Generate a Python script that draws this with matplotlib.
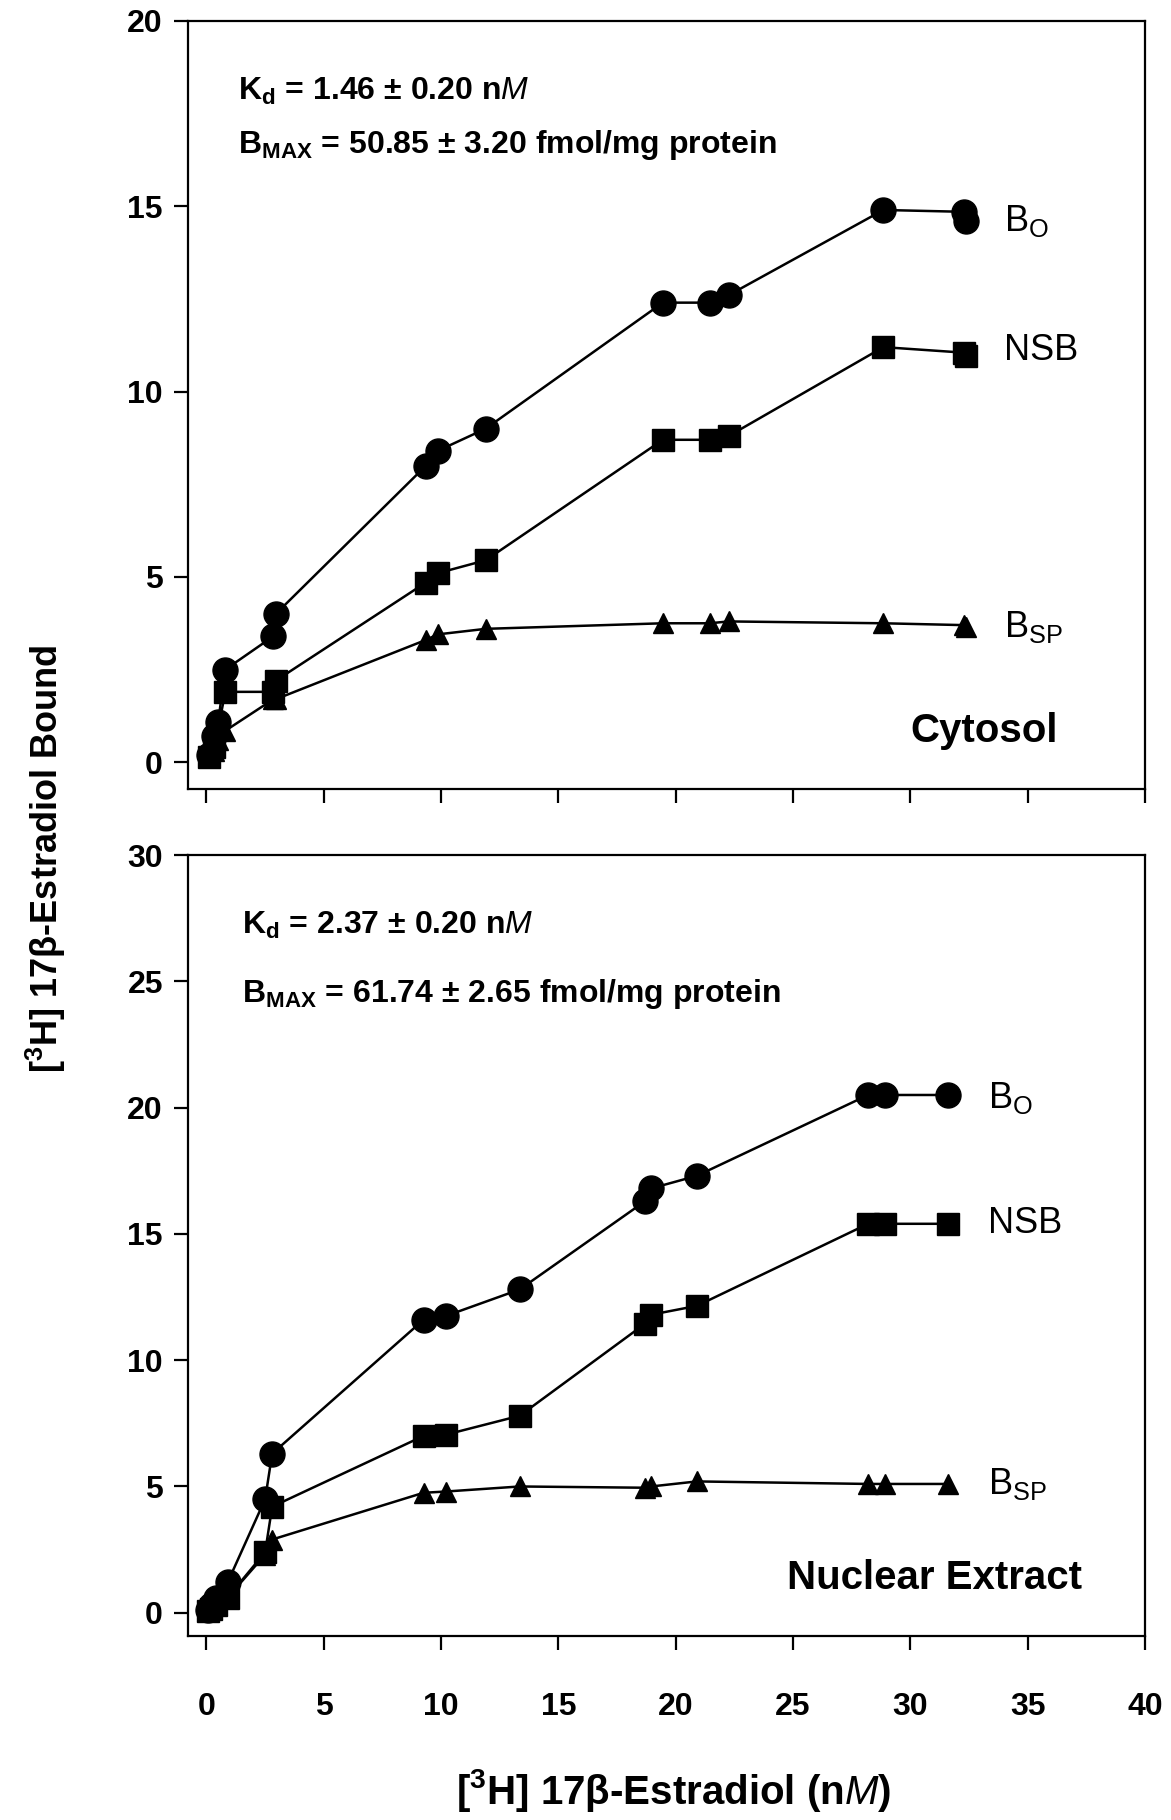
import matplotlib
matplotlib.use('Agg')
import matplotlib.pyplot as plt

plt.rcParams['font.family'] = ['Liberation Sans', 'DejaVu Sans']
plt.rcParams['mathtext.fontset'] = 'custom'
plt.rcParams['mathtext.rm'] = 'Liberation Sans'
plt.rcParams['mathtext.it'] = 'Liberation Sans:italic'
plt.rcParams['mathtext.bf'] = 'Liberation Sans:bold'

# cytosol (top panel)
top_x = [0.1, 0.3, 0.5, 0.8, 2.85, 2.95, 9.35, 9.85, 11.9, 19.45, 21.45, 22.25, 28.85, 32.3, 32.35]
top_bo = [0.2, 0.7, 1.1, 2.5, 3.4, 4.0, 8.0, 8.4, 9.0, 12.4, 12.4, 12.6, 14.9, 14.85, 14.6]
top_nsb = [0.15, 0.4, 0.9, 1.9, 1.9, 2.2, 4.85, 5.1, 5.45, 8.7, 8.7, 8.8, 11.2, 11.05, 10.95]
top_bsp = [0.15, 0.3, 0.6, 0.85, 1.7, 1.7, 3.3, 3.45, 3.6, 3.75, 3.75, 3.8, 3.75, 3.7, 3.65]

# nuclear extract (bottom panel)
bot_x = [0.05, 0.2, 0.4, 0.9, 2.5, 2.8, 9.25, 10.2, 13.35, 18.7, 18.95, 20.9, 28.2, 28.9, 31.6]
bot_bo = [0.1, 0.3, 0.6, 1.2, 4.5, 6.3, 11.6, 11.75, 12.8, 16.3, 16.8, 17.3, 20.5, 20.5, 20.5]
bot_nsb = [0.05, 0.15, 0.3, 0.6, 2.4, 4.2, 7.0, 7.05, 7.8, 11.45, 11.8, 12.15, 15.4, 15.4, 15.4]
bot_bsp = [0.05, 0.15, 0.3, 0.6, 2.3, 2.9, 4.75, 4.8, 5.0, 4.95, 5.0, 5.2, 5.1, 5.1, 5.1]

x_ticks = [0, 5, 10, 15, 20, 25, 30, 35, 40]

fig = plt.figure(figsize=(11.71, 18.2), dpi=100)
ax1 = fig.add_axes([0.1605, 0.5665, 0.8173, 0.422])
ax2 = fig.add_axes([0.1605, 0.1011, 0.8173, 0.4291])


def draw_panel(ax, x, bo, nsb, bsp):
    ax.plot(x, bo, color='black', lw=1.8, marker='o', ms=18, zorder=3)
    ax.plot(x, nsb, color='black', lw=1.8, marker='s', ms=16, zorder=3)
    ax.plot(x, bsp, color='black', lw=1.8, marker='^', ms=15, zorder=3)
    ax.set_xlim(-0.79, 40)
    ax.set_xticks(x_ticks)
    for s in ax.spines.values():
        s.set_linewidth(1.6)
    ax.tick_params(direction='out', length=10, width=1.6, labelsize=23, top=False, right=False)
    ax.tick_params(axis='y', pad=8)


draw_panel(ax1, top_x, top_bo, top_nsb, top_bsp)
ax1.set_ylim(-0.72, 20)
ax1.set_yticks([0, 5, 10, 15, 20])
ax1.set_xticklabels([])
for lab in ax1.get_yticklabels():
    lab.set_fontweight('bold')

draw_panel(ax2, bot_x, bot_bo, bot_nsb, bot_bsp)
ax2.set_ylim(-0.92, 30)
ax2.set_yticks([0, 5, 10, 15, 20, 25, 30])
ax2.tick_params(axis='x', pad=30)
for lab in ax2.get_yticklabels() + ax2.get_xticklabels():
    lab.set_fontweight('bold')

ann = dict(fontsize=23, fontweight='bold', va='center', ha='left')
ax1.text(1.33, 18.1, r'K$_\mathbf{d}$ = 1.46 ± 0.20 n$\mathbf{\mathit{M}}$', **ann)
ax1.text(1.33, 16.65, r'B$_\mathbf{MAX}$ = 50.85 ± 3.20 fmol/mg protein', **ann)
ax2.text(1.5, 27.2, r'K$_\mathbf{d}$ = 2.37 ± 0.20 n$\mathbf{\mathit{M}}$', **ann)
ax2.text(1.5, 24.5, r'B$_\mathbf{MAX}$ = 61.74 ± 2.65 fmol/mg protein', **ann)

lbl = dict(fontsize=26, va='center', ha='left')
ax1.text(34.0, 14.6, r'B$_\mathrm{O}$', **lbl)
ax1.text(34.0, 11.1, 'NSB', **lbl)
ax1.text(34.0, 3.65, r'B$_\mathrm{SP}$', **lbl)
ax2.text(33.3, 20.4, r'B$_\mathrm{O}$', **lbl)
ax2.text(33.3, 15.4, 'NSB', **lbl)
ax2.text(33.3, 5.1, r'B$_\mathrm{SP}$', **lbl)

ax1.text(36.3, 0.85, 'Cytosol', fontsize=29, fontweight='bold', ha='right', va='center')
ax2.text(37.3, 1.38, 'Nuclear Extract', fontsize=29, fontweight='bold', ha='right', va='center')

fig.text(0.039, 0.528, r'[$^\mathbf{3}$H] 17β-Estradiol Bound', rotation=90, fontsize=26,
         fontweight='bold', ha='center', va='center')
fig.text(0.575, 0.016, r'[$^\mathbf{3}$H] 17β-Estradiol (n$\mathbf{\mathit{M}}$)', fontsize=29,
         fontweight='bold', ha='center', va='center')

fig.savefig('out.png', dpi=100)
